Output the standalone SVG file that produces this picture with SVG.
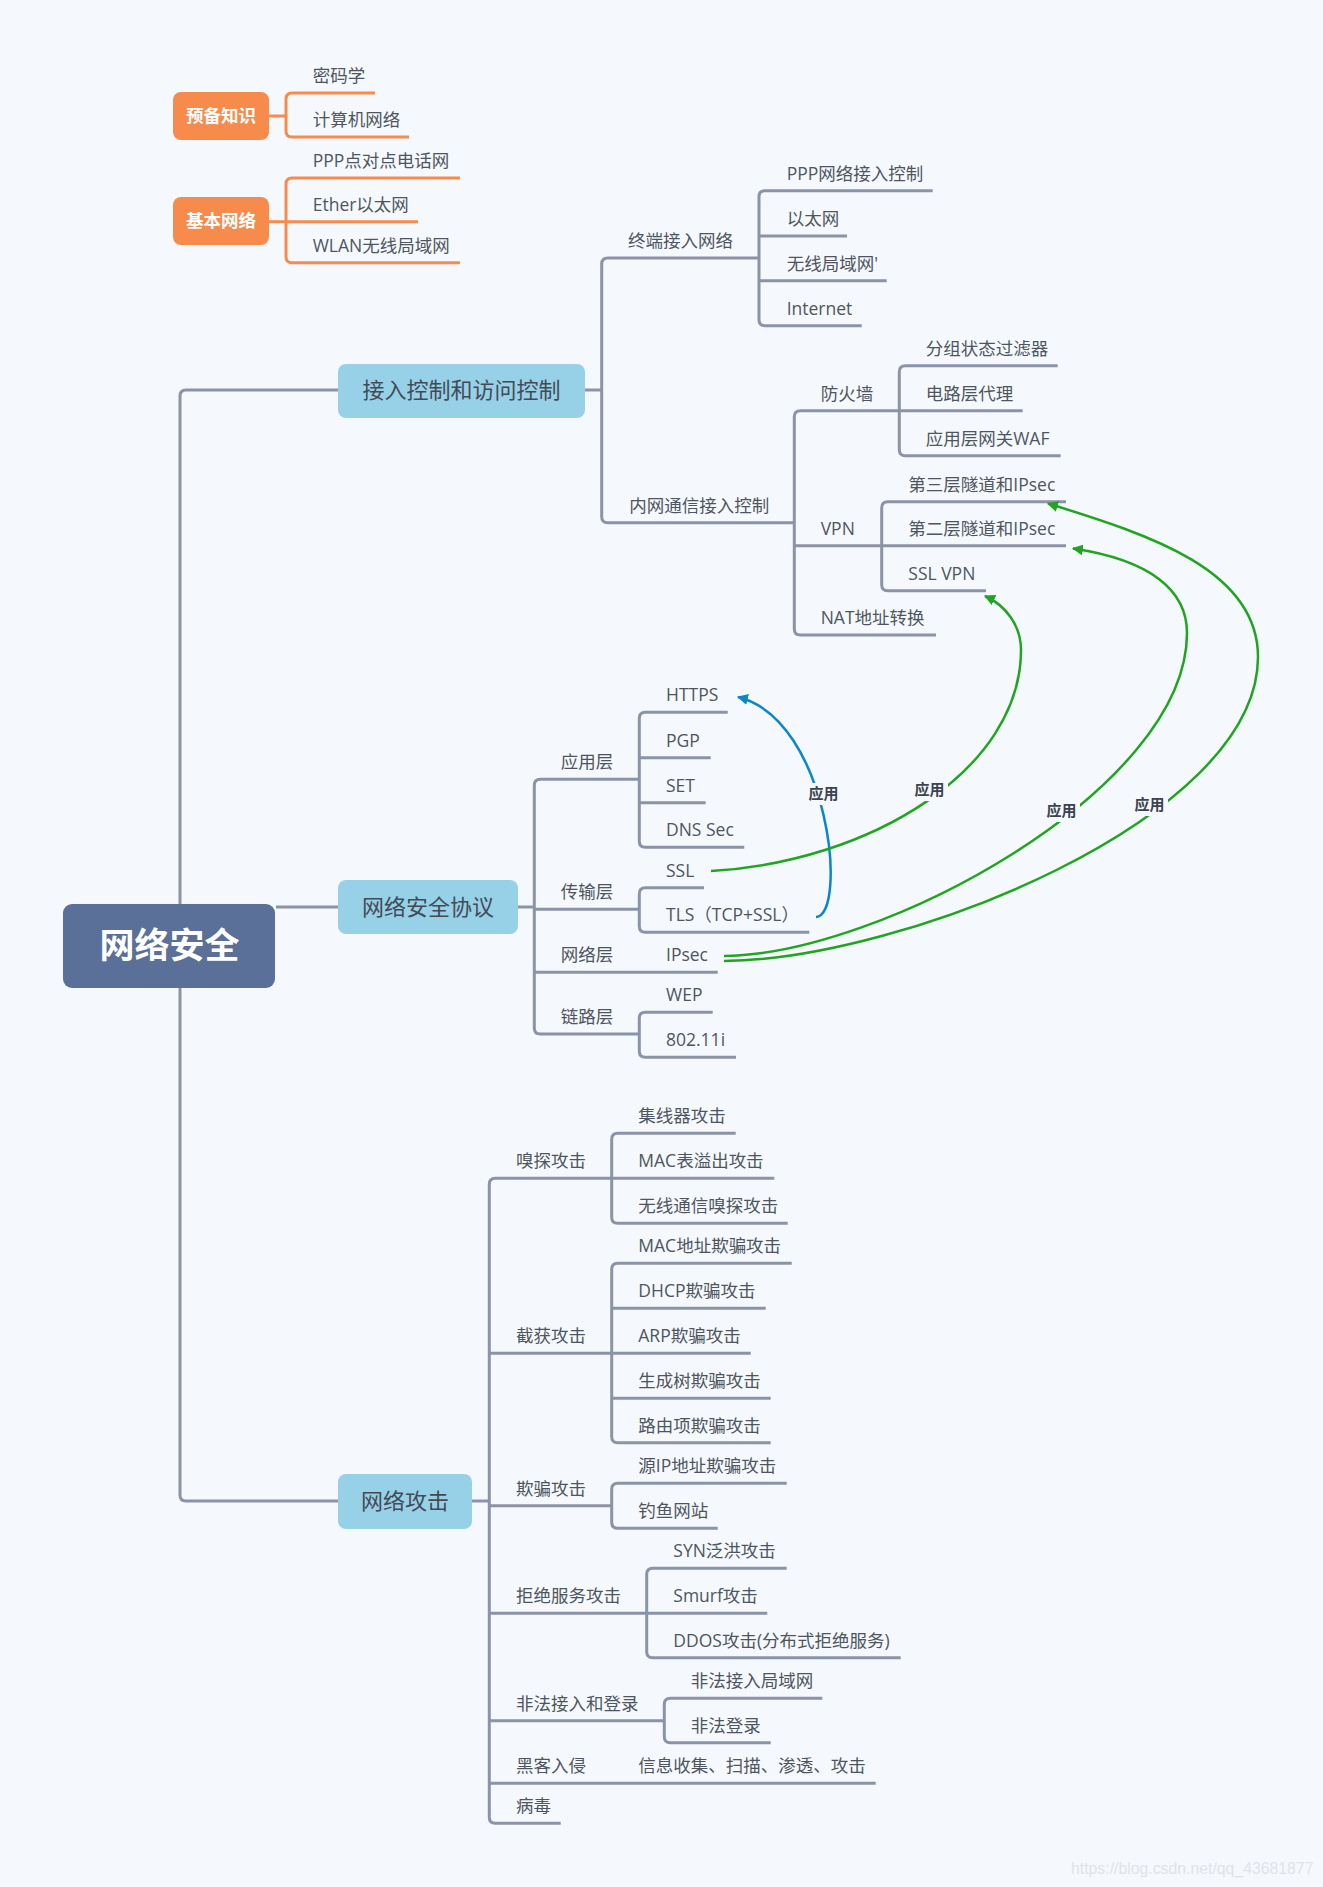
<svg xmlns="http://www.w3.org/2000/svg" width="1323" height="1887" viewBox="0 0 1323 1887">
<style>
.ln{fill:none;stroke:#8a93a7;stroke-width:3}
.lo{fill:none;stroke:#f68b4c;stroke-width:3}
.t{font-family:"Open Sans","Noto Sans CJK SC",sans-serif;font-size:17.5px;fill:#4f5560}
.l1{font-family:"Open Sans","Noto Sans CJK SC",sans-serif;font-size:22px;fill:#434a56;text-anchor:middle}
.ob{fill:#f68b4c}
.ot{font-family:"Noto Sans CJK SC",sans-serif;font-size:17.5px;font-weight:bold;fill:#ffffff;text-anchor:middle}
.b1{fill:#96d1e8}
.cb{fill:none;stroke:#0a86cc;stroke-width:2.5}
.cg{fill:none;stroke:#1fa51f;stroke-width:2.5}
.lab{font-family:"Noto Sans CJK SC",sans-serif;font-size:15px;font-weight:bold;fill:#3b4350;text-anchor:middle}
.lbg{fill:#f5f9fd}
</style>
<defs>
<marker id="ab" viewBox="0 0 10 10" refX="9" refY="5" markerWidth="11" markerHeight="11" markerUnits="userSpaceOnUse" orient="auto"><path d="M0,0 L10,5 L0,10 z" fill="#0a86cc"/></marker>
<marker id="ag" viewBox="0 0 10 10" refX="9" refY="5" markerWidth="11" markerHeight="11" markerUnits="userSpaceOnUse" orient="auto"><path d="M0,0 L10,5 L0,10 z" fill="#1fa51f"/></marker>
</defs>
<rect x="0" y="0" width="1323" height="1887" fill="#f5f9fd"/>

<g id="connectors">
<!-- orange -->
<path class="lo" d="M269,116 H286"/>
<path class="lo" d="M375,93 H292 Q286,93 286,99 V131 Q286,137 292,137 H409"/>
<path class="lo" d="M269,221.7 H286"/>
<path class="lo" d="M460,178 H292 Q286,178 286,184 V256.7 Q286,262.7 292,262.7 H460"/>
<path class="lo" d="M286,221.7 H418"/>
<!-- root -->
<path class="ln" d="M338,390 H186 Q180,390 180,396 V1495 Q180,1501 186,1501 H338"/>
<path class="ln" d="M276,907 H338"/>
<!-- section 1 -->
<path class="ln" d="M585,390 H601.7"/>
<path class="ln" d="M759,258 H607.7 Q601.7,258 601.7,264 V516.7 Q601.7,522.7 607.7,522.7 H794.3"/>
<path class="ln" d="M932.7,190.7 H765 Q759,190.7 759,196.7 V319.7 Q759,325.7 765,325.7 H861.7"/>
<path class="ln" d="M759,236 H847 M759,280.7 H886.7"/>
<path class="ln" d="M899.3,410.7 H800.3 Q794.3,410.7 794.3,416.7 V629 Q794.3,635 800.3,635 H936"/>
<path class="ln" d="M794.3,545.7 H881.7"/>
<path class="ln" d="M1057.7,365.7 H905.3 Q899.3,365.7 899.3,371.7 V449.7 Q899.3,455.7 905.3,455.7 H1060.7"/>
<path class="ln" d="M899.3,410.7 H1022.7"/>
<path class="ln" d="M1066,501.7 H887.7 Q881.7,501.7 881.7,507.7 V584.7 Q881.7,590.7 887.7,590.7 H986"/>
<path class="ln" d="M881.7,545.7 H1066"/>
<!-- section 2 -->
<path class="ln" d="M518,907 H534.3"/>
<path class="ln" d="M639.3,779.3 H540.3 Q534.3,779.3 534.3,785.3 V1028 Q534.3,1034 540.3,1034 H639.3"/>
<path class="ln" d="M534.3,909.3 H639.3 M534.3,972.3 H717.7"/>
<path class="ln" d="M727.7,712.3 H645.3 Q639.3,712.3 639.3,718.3 V841.3 Q639.3,847.3 645.3,847.3 H744.3"/>
<path class="ln" d="M639.3,757.7 H710.7 M639.3,802.7 H705.7"/>
<path class="ln" d="M704,887.7 H645.3 Q639.3,887.7 639.3,893.7 V926.3 Q639.3,932.3 645.3,932.3 H809.3"/>
<path class="ln" d="M712.7,1012.3 H645.3 Q639.3,1012.3 639.3,1018.3 V1051.3 Q639.3,1057.3 645.3,1057.3 H736"/>
<!-- section 3 -->
<path class="ln" d="M472,1501 H489.3"/>
<path class="ln" d="M611.7,1178.3 H495.3 Q489.3,1178.3 489.3,1184.3 V1817.3 Q489.3,1823.3 495.3,1823.3 H560.7"/>
<path class="ln" d="M489.3,1353.3 H611.7 M489.3,1505.7 H611.7 M489.3,1613.3 H646.7 M489.3,1720.7 H664.3 M489.3,1783.3 H875.7"/>
<path class="ln" d="M735.7,1133.3 H617.7 Q611.7,1133.3 611.7,1139.3 V1217.3 Q611.7,1223.3 617.7,1223.3 H787.7"/>
<path class="ln" d="M611.7,1178.3 H774.3"/>
<path class="ln" d="M791.7,1263.3 H617.7 Q611.7,1263.3 611.7,1269.3 V1436.7 Q611.7,1442.7 617.7,1442.7 H770.7"/>
<path class="ln" d="M611.7,1308.3 H765.7 M611.7,1353.3 H750.7 M611.7,1398.3 H770.7"/>
<path class="ln" d="M786.7,1483.3 H617.7 Q611.7,1483.3 611.7,1489.3 V1522.3 Q611.7,1528.3 617.7,1528.3 H717.7"/>
<path class="ln" d="M786.7,1568.3 H652.7 Q646.7,1568.3 646.7,1574.3 V1651.7 Q646.7,1657.7 652.7,1657.7 H900.7"/>
<path class="ln" d="M646.7,1613.3 H767.3"/>
<path class="ln" d="M822.3,1698.3 H670.3 Q664.3,1698.3 664.3,1704.3 V1736.7 Q664.3,1742.7 670.3,1742.7 H770.7"/>
<!-- relation curves -->
<path class="cb" d="M816,917 C848,915 830,720 738,697" marker-end="url(#ab)"/>
<path class="cg" d="M711,871 C870,862 1021,770 1021,650 C1021,625 1005,605 985,596" marker-end="url(#ag)"/>
<path class="cg" d="M724,956 C880,955 1187,790 1187,633 C1187,590 1150,560 1073,548.5" marker-end="url(#ag)"/>
<path class="cg" d="M724,961 C900,960 1258,820 1258,657 C1258,570 1150,535 1048,503.5" marker-end="url(#ag)"/>
<g id="relation-labels">
<rect class="lbg" x="805" y="783" width="37" height="22"/>
<text class="lab" x="823.5" y="799">应用</text>
<rect class="lbg" x="911" y="779" width="37" height="22"/>
<text class="lab" x="929.5" y="795">应用</text>
<rect class="lbg" x="1043" y="800" width="37" height="22"/>
<text class="lab" x="1061.5" y="816">应用</text>
<rect class="lbg" x="1131" y="794" width="37" height="22"/>
<text class="lab" x="1149.5" y="810">应用</text>
</g>
</g>

<g id="n-yubei"><rect class="ob" x="173" y="92" width="96" height="48" rx="8"/><text class="ot" x="221" y="122">预备知识</text></g>
<g id="n-mima"><text class="t" x="312.7" y="82">密码学</text></g>
<g id="n-jisuanji"><text class="t" x="312.7" y="126">计算机网络</text></g>
<g id="n-jiben"><rect class="ob" x="173" y="197" width="96" height="48" rx="8"/><text class="ot" x="221" y="227">基本网络</text></g>
<g id="n-ppp"><text class="t" x="312.7" y="167">PPP点对点电话网</text></g>
<g id="n-ether"><text class="t" x="312.7" y="211">Ether以太网</text></g>
<g id="n-wlan"><text class="t" x="312.7" y="252">WLAN无线局域网</text></g>

<g id="n-root"><rect x="63" y="904" width="212" height="84" rx="9" fill="#5a7098"/><text x="169.5" y="958" font-family="Noto Sans CJK SC,sans-serif" font-size="35" font-weight="bold" fill="#ffffff" text-anchor="middle">网络安全</text></g>

<g id="n-jieru"><rect class="b1" x="338" y="364" width="247" height="54" rx="8"/><text class="l1" x="461.5" y="398">接入控制和访问控制</text></g>
<g id="n-zhongduan"><text class="t" x="628" y="247">终端接入网络</text></g>
<g id="n-pppctrl"><text class="t" x="786.7" y="180">PPP网络接入控制</text></g>
<g id="n-yitai"><text class="t" x="786.7" y="225">以太网</text></g>
<g id="n-wuxian"><text class="t" x="786.7" y="270">无线局域网'</text></g>
<g id="n-internet"><text class="t" x="786.7" y="315">Internet</text></g>
<g id="n-neiwang"><text class="t" x="629.3" y="512">内网通信接入控制</text></g>
<g id="n-fhq"><text class="t" x="820.7" y="400">防火墙</text></g>
<g id="n-fenzu"><text class="t" x="925.7" y="355">分组状态过滤器</text></g>
<g id="n-dianlu"><text class="t" x="925.7" y="400">电路层代理</text></g>
<g id="n-waf"><text class="t" x="925.7" y="445">应用层网关WAF</text></g>
<g id="n-vpn"><text class="t" x="820.7" y="535">VPN</text></g>
<g id="n-l3"><text class="t" x="908.3" y="491">第三层隧道和IPsec</text></g>
<g id="n-l2"><text class="t" x="908.3" y="535">第二层隧道和IPsec</text></g>
<g id="n-sslvpn"><text class="t" x="908.3" y="580">SSL VPN</text></g>
<g id="n-nat"><text class="t" x="820.7" y="624">NAT地址转换</text></g>

<g id="n-xieyi"><rect class="b1" x="338" y="880" width="180" height="54" rx="8"/><text class="l1" x="428" y="915">网络安全协议</text></g>
<g id="n-yingyong"><text class="t" x="560.7" y="768">应用层</text></g>
<g id="n-https"><text class="t" x="666" y="701">HTTPS</text></g>
<g id="n-pgp"><text class="t" x="666" y="747">PGP</text></g>
<g id="n-set"><text class="t" x="666" y="792">SET</text></g>
<g id="n-dns"><text class="t" x="666" y="836">DNS Sec</text></g>
<g id="n-chuanshu"><text class="t" x="560.7" y="898">传输层</text></g>
<g id="n-ssl"><text class="t" x="666" y="877">SSL</text></g>
<g id="n-tls"><text class="t" x="666" y="921">TLS（TCP+SSL）</text></g>
<g id="n-wangluoceng"><text class="t" x="560.7" y="961">网络层</text></g>
<g id="n-ipsec"><text class="t" x="666" y="961">IPsec</text></g>
<g id="n-lianlu"><text class="t" x="560.7" y="1023">链路层</text></g>
<g id="n-wep"><text class="t" x="666" y="1001">WEP</text></g>
<g id="n-80211i"><text class="t" x="666" y="1046">802.11i</text></g>

<g id="n-gongji"><rect class="b1" x="338" y="1474" width="134" height="55" rx="8"/><text class="l1" x="405" y="1509">网络攻击</text></g>
<g id="n-xiutan"><text class="t" x="516" y="1167">嗅探攻击</text></g>
<g id="n-jixianqi"><text class="t" x="638.3" y="1122">集线器攻击</text></g>
<g id="n-macbiao"><text class="t" x="638.3" y="1167">MAC表溢出攻击</text></g>
<g id="n-wxtx"><text class="t" x="638.3" y="1212">无线通信嗅探攻击</text></g>
<g id="n-jiehuo"><text class="t" x="516" y="1342">截获攻击</text></g>
<g id="n-macdz"><text class="t" x="638.3" y="1252">MAC地址欺骗攻击</text></g>
<g id="n-dhcp"><text class="t" x="638.3" y="1297">DHCP欺骗攻击</text></g>
<g id="n-arp"><text class="t" x="638.3" y="1342">ARP欺骗攻击</text></g>
<g id="n-scs"><text class="t" x="638.3" y="1387">生成树欺骗攻击</text></g>
<g id="n-lyx"><text class="t" x="638.3" y="1432">路由项欺骗攻击</text></g>
<g id="n-qipian"><text class="t" x="516" y="1495">欺骗攻击</text></g>
<g id="n-yuanip"><text class="t" x="638.3" y="1472">源IP地址欺骗攻击</text></g>
<g id="n-diaoyu"><text class="t" x="638.3" y="1517">钓鱼网站</text></g>
<g id="n-jujue"><text class="t" x="516" y="1602">拒绝服务攻击</text></g>
<g id="n-syn"><text class="t" x="673.3" y="1557">SYN泛洪攻击</text></g>
<g id="n-smurf"><text class="t" x="673.3" y="1602">Smurf攻击</text></g>
<g id="n-ddos"><text class="t" x="673.3" y="1647">DDOS攻击(分布式拒绝服务)</text></g>
<g id="n-feifa"><text class="t" x="516" y="1710">非法接入和登录</text></g>
<g id="n-ffjr"><text class="t" x="690.7" y="1687">非法接入局域网</text></g>
<g id="n-ffdl"><text class="t" x="690.7" y="1732">非法登录</text></g>
<g id="n-heike"><text class="t" x="516" y="1772">黑客入侵</text></g>
<g id="n-xinxi"><text class="t" x="638.3" y="1772">信息收集、扫描、渗透、攻击</text></g>
<g id="n-bingdu"><text class="t" x="516" y="1812">病毒</text></g>

<text x="1071" y="1874" font-family="Liberation Sans,Arial,sans-serif" font-size="15.8" fill="#dfe3e8">https://blog.csdn.net/qq_43681877</text>
</svg>
